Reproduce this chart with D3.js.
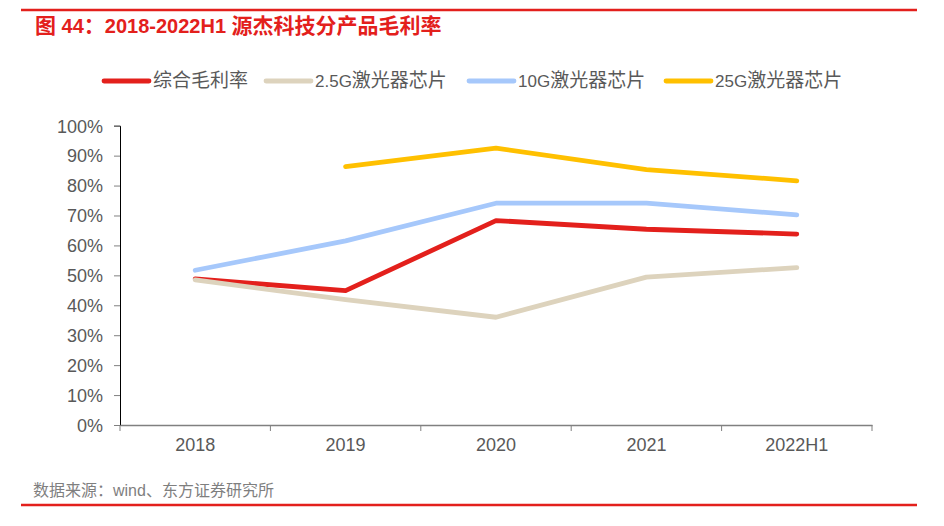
<!DOCTYPE html>
<html><head><meta charset="utf-8">
<script src="https://cdn.jsdelivr.net/npm/d3@7"></script>
<style>body{margin:0;background:#fff;}svg{display:block;}</style>
</head><body>
<svg id="c" width="944" height="526"></svg>
<script>
const categories = ["2018","2019","2020","2021","2022H1"];
const seriesNames = ["综合毛利率","2.5G激光器芯片","10G激光器芯片","25G激光器芯片"];
const seriesColors = ["#e3201c","#ddd3bd","#a6c8fb","#ffc000"];
const overall = [48.8, 44.9, 68.3, 65.4, 63.8];
const chip25G_low = [48.5, 41.9, 36.0, 49.4, 52.6];
const chip10G = [51.7, 61.5, 74.1, 74.1, 70.2];
const chip25G = [null, 86.3, 92.5, 85.3, 81.6];
const yTicks = [0,10,20,30,40,50,60,70,80,90,100];
const title = "图 44：2018-2022H1 源杰科技分产品毛利率";
const source = "数据来源：wind、东方证券研究所";
const seriesValues = [overall, chip25G_low, chip10G, chip25G];

const svg = d3.select("#c");
const font = "'Liberation Sans', Arial, 'Noto Sans CJK SC', sans-serif";

// split text into latin / CJK runs with different sizes
function runs(sel, str, latinSize, cjkSize){
  const parts = str.match(/[\x00-\x7F]+|[^\x00-\x7F]+/g);
  parts.forEach(p=>{
    sel.append("tspan").attr("font-size", /^[\x00-\x7F]/.test(p) ? latinSize : cjkSize).text(p);
  });
}

// frame lines
svg.append("line").attr("x1",21).attr("x2",917).attr("y1",10).attr("y2",10).attr("stroke","#e3201c").attr("stroke-width",2.5);
svg.append("line").attr("x1",21).attr("x2",917).attr("y1",505).attr("y2",505).attr("stroke","#e3201c").attr("stroke-width",2.5);
const t = svg.append("text").attr("x",35).attr("y",33).attr("fill","#e3201c").attr("font-weight","bold")
  .attr("font-family",font);
runs(t, title, 20, 21);
svg.append("text").attr("x",33).attr("y",496).attr("fill","#7f7f7f").attr("font-size",16)
  .attr("font-family",font).text(source);

const x = d3.scaleBand().domain(categories).range([120,872]);
const y = d3.scaleLinear().domain([0,100]).range([425,125.7]);

// y axis
const ya = svg.append("g").attr("transform","translate(120,0)")
  .call(d3.axisLeft(y).tickValues(yTicks).tickSize(6).tickFormat(d=>d+"%"));
ya.select(".domain").attr("stroke","#000").attr("stroke-width",1);
ya.selectAll(".tick line").attr("stroke","#808080");
ya.selectAll("text").attr("font-size",18).attr("font-family",font).attr("fill","#595959").attr("x",-17).attr("dy","0.35em");

// x axis
const xa = svg.append("g").attr("transform","translate(0,425)")
  .call(d3.axisBottom(x).tickSize(0));
xa.select(".domain").attr("stroke","#808080").attr("stroke-width",1.5);
xa.selectAll("text").attr("font-size",18).attr("font-family",font).attr("fill","#595959").attr("dy","1.3em");
const bounds = categories.map(c=>x(c)).concat([x.range()[1]]);
xa.selectAll(".bt").data(bounds).enter().append("line").attr("class","bt")
  .attr("x1",d=>d).attr("x2",d=>d).attr("y1",0).attr("y2",6).attr("stroke","#808080");

// lines
const line = d3.line().defined(d=>d.v!=null).x(d=>x(d.c)+x.bandwidth()/2).y(d=>y(d.v));
seriesValues.forEach((vals,i)=>{
  svg.append("path").datum(categories.map((c,j)=>({c,v:vals[j]})))
    .attr("d",line).attr("fill","none").attr("stroke",seriesColors[i]).attr("stroke-width",4.8)
    .attr("stroke-linecap","round").attr("stroke-linejoin","round");
});

// legend
const legX = [102, 264, 467, 664];
seriesNames.forEach((n,i)=>{
  svg.append("line").attr("x1",legX[i]+2).attr("x2",legX[i]+47).attr("y1",81).attr("y2",81)
    .attr("stroke",seriesColors[i]).attr("stroke-width",4.8).attr("stroke-linecap","round");
  const lt = svg.append("text").attr("x",legX[i]+51).attr("y",81).attr("dy","0.35em")
    .attr("font-family",font).attr("fill","#595959");
  runs(lt, n, 17, 19);
});
</script>
</body></html>
